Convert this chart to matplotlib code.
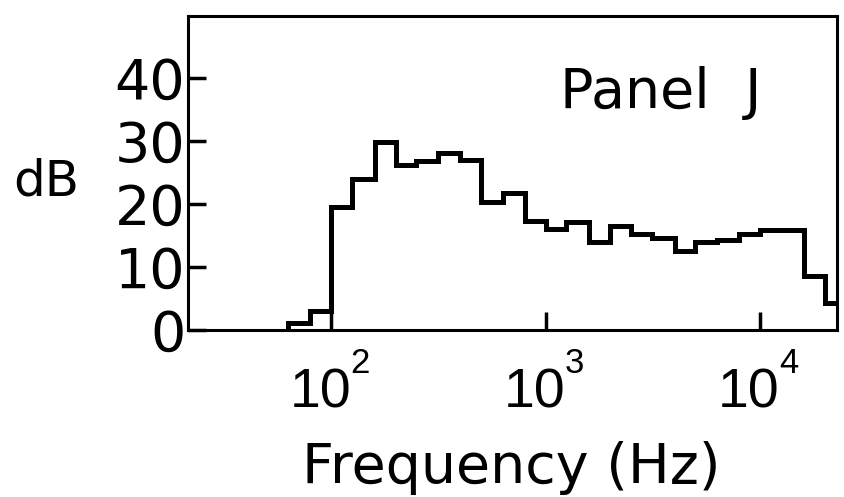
import matplotlib
matplotlib.use("Agg")
import matplotlib.pyplot as plt

# third-octave band edges (Hz) and band levels (dB)
band_edges_hz = [63, 80, 100, 125, 160, 200, 250, 315, 400, 500, 630, 800,
                 1000, 1250, 1600, 2000, 2500, 3150, 4000, 5000, 6300, 8000,
                 10000, 12500, 16000, 20000, 25000]
level_db = [1.1, 3.0, 19.5, 24.0, 29.8, 26.2, 26.8, 28.0, 27.0, 20.3, 21.7,
            17.3, 16.0, 17.1, 14.0, 16.5, 15.2, 14.6, 12.5, 14.0, 14.2, 15.2,
            15.9, 15.9, 8.6, 4.3]
y_ticks = [0, 10, 20, 30, 40]
x_ticks = [100, 1000, 10000]
x_tick_base = ["10", "10", "10"]
x_tick_exponents = ["2", "3", "4"]

plt.rcParams["font.family"] = ["DejaVu Sans"]

fig = plt.figure(figsize=(8.44, 4.97), dpi=100)
ax = fig.add_axes([188/844, 1-330/497, (837-188)/844, (330-16)/497])

ax.stairs(level_db, band_edges_hz, baseline=0, color="black", linewidth=3.6)

ax.set_xscale("log")
ax.set_xlim(21.5, 22860)
ax.set_ylim(0, 49.8)

ax.set_yticks(y_ticks)
ax.set_yticklabels([str(v) for v in y_ticks])
ax.set_xticks(x_ticks)
ax.set_xticklabels(["" for _ in x_ticks])
ax.minorticks_off()

ax.tick_params(axis="both", direction="in", length=13, width=2.5, color="black")
ax.tick_params(axis="y", labelsize=40, pad=2)

for xt, base, ex in zip(x_ticks, x_tick_base, x_tick_exponents):
    ax.annotate(base, xy=(xt, 0), xycoords=("data", "axes fraction"),
                xytext=(-11, -38), textcoords="offset pixels",
                ha="center", va="top", fontsize=40, family="Liberation Sans")
    ax.annotate(ex, xy=(xt, 0), xycoords=("data", "axes fraction"),
                xytext=(19, -17), textcoords="offset pixels",
                ha="left", va="top", fontsize=25, family="Liberation Sans")

for s in ax.spines.values():
    s.set_linewidth(2.2)
    s.set_color("black")

fig.text(46/844, 1-181/497, "dB", ha="center", va="center", fontsize=36)
fig.text(511/844, 1-483/497, "Frequency (Hz)", ha="center", va="baseline", fontsize=40)
fig.text(560/844, 1-108/497, "Panel  J", ha="left", va="baseline", fontsize=40)

fig.savefig("out.png", dpi=100)
